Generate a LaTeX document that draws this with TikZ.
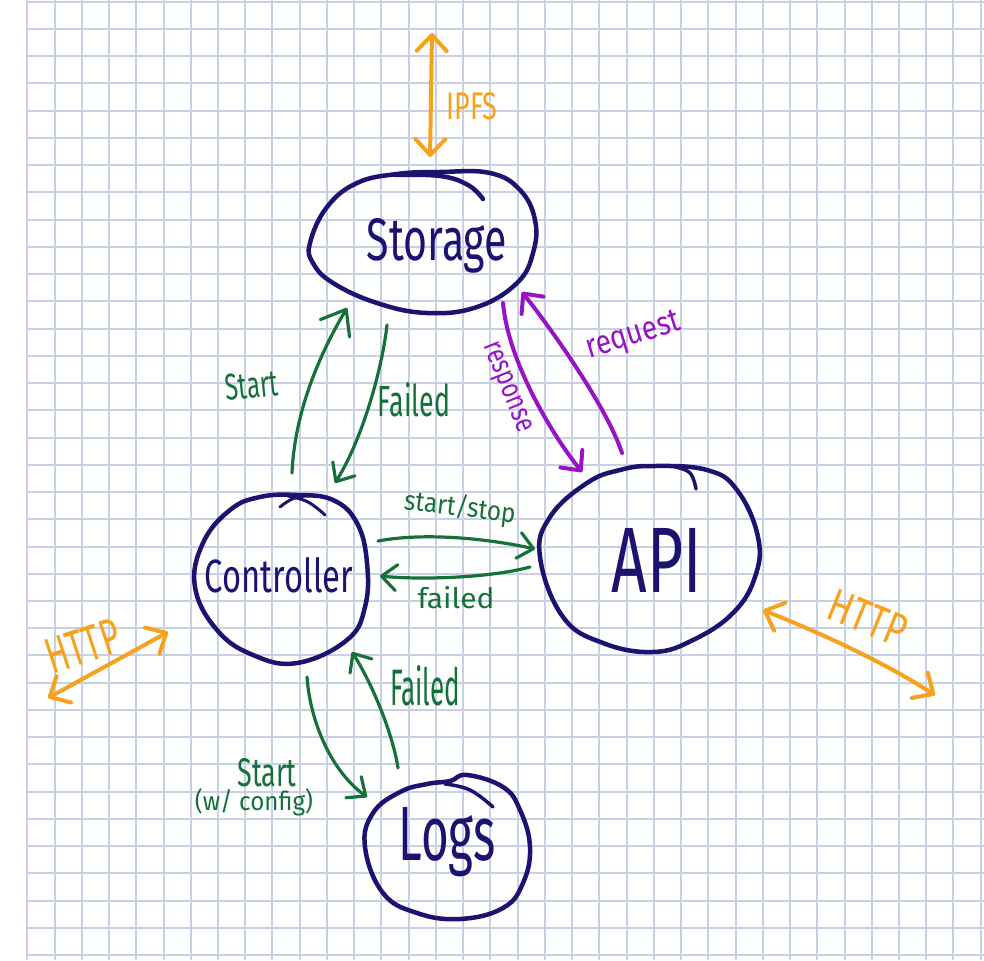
\documentclass[tikz,border=0pt]{standalone}
\usepackage{fontspec}
\setmainfont{Fira Sans}
\usetikzlibrary{arrows.meta,calc,shapes.geometric}
\definecolor{navy}{RGB}{30,18,112}
\definecolor{hwgreen}{RGB}{22,112,58}
\definecolor{hwpurple}{RGB}{150,20,198}
\definecolor{hworange}{RGB}{246,162,28}
\definecolor{gridc}{RGB}{200,208,228}
\newcommand{\hw}[3]{\resizebox{#1pt}{#2pt}{#3}}
\begin{document}
\begin{tikzpicture}[x=1pt,y=-1pt,
  outline/.style={draw=navy,line width=4.5pt,line cap=round,line join=round},
  holder/.style={shape=ellipse,draw=none,inner sep=0pt},
  lbl/.style={inner sep=0pt,anchor=base},
  navytxt/.style={lbl,text=navy},
  greentxt/.style={lbl,text=hwgreen},
  purpletxt/.style={lbl,text=hwpurple},
  orangetxt/.style={inner sep=0pt,text=hworange},
  garrow/.style={draw=hwgreen,line width=3.2pt,line cap=round,-{Straight Barb[length=15pt,width=26pt,round]}},
  parrow/.style={draw=hwpurple,line width=4pt,line cap=round,-{Straight Barb[length=15pt,width=28pt,round]}},
  oarrow/.style={draw=hworange,line width=4pt,line cap=round,{Straight Barb[length=16pt,width=30pt,round]}-{Straight Barb[length=16pt,width=30pt,round]}},
  gridline/.style={draw=gridc,line width=1.4pt}
]
\fill[white] (0,0) rectangle (984,960);
\useasboundingbox (0,0) rectangle (984,960);
% grid paper
\foreach \i in {0,...,35} {
  \pgfmathsetmacro{\gx}{round(27.3+27.24*\i)}
  \draw[gridline] (\gx,0) -- (\gx,960);
}
\foreach \j in {0,...,35} {
  \pgfmathsetmacro{\gy}{round(1.7+27.24*\j)}
  \draw[gridline] (27,\gy) -- (984,\gy);
}
% node holders
\node[holder,minimum width=225pt,minimum height=140pt] (storage) at (422,242) {};
\node[holder,minimum width=172pt,minimum height=168pt] (ctrl) at (281,579) {};
\node[holder,minimum width=218pt,minimum height=186pt] (api) at (649,559) {};
\node[holder,minimum width=165pt,minimum height=144pt] (logs) at (447,847) {};
% hand-drawn outlines
\draw[outline] plot[smooth cycle,tension=0.7] coordinates {(310,243) (327,207) (357,183) (397,174) (440,172) (490,173) (520,190) (535,220) (533,253) (517,283) (477,307) (427,313) (377,303) (333,283) (313,263)};
\draw[outline] plot[smooth,tension=0.7] coordinates {(395,175) (440,176) (468,185) (483,199)};
\draw[outline] plot[smooth cycle,tension=0.7] coordinates {(297,495) (333,500) (357,523) (367,563) (365,607) (347,640) (297,663) (253,655) (217,630) (195,587) (203,543) (230,510) (260,497)};
\draw[outline,line width=3pt] plot[smooth,tension=0.7] coordinates {(280,507) (292,499) (305,496)};
\draw[outline,line width=3pt] plot[smooth,tension=0.7] coordinates {(288,496) (308,502) (325,515)};
\draw[outline] plot[smooth cycle,tension=0.7] coordinates {(653,466) (707,470) (737,490) (758,537) (755,577) (733,613) (693,640) (653,652) (603,643) (563,617) (540,557) (550,517) (587,483) (620,470)};
\draw[outline,line width=3.5pt] plot[smooth,tension=0.7] coordinates {(675,467) (690,473) (696,489)};
\draw[outline] plot[smooth cycle,tension=0.7] coordinates {(427,784) (450,781) (467,775) (503,787) (520,810) (530,847) (523,883) (503,908) (460,919) (417,913) (383,893) (365,847) (373,813) (400,792)};
\draw[outline,line width=3.5pt] plot[smooth,tension=0.7] coordinates {(445,784) (470,790) (493,807)};
% node texts
\node[navytxt] (storagetxt) at (437,260) {\hw{140}{42}{Storage}};
\node[navytxt] (ctrltxt) at (279,592) {\hw{148}{35}{Controller}};
\node[navytxt] (apitxt) at (657,592) {\hw{90}{64}{API}};
\node[navytxt] (logstxt) at (447,860) {\hw{97}{53}{Logs}};
% free ends
\coordinate (ipfsend) at (432,33);
\coordinate (httpLend) at (48,698);
\coordinate (httpRend) at (935,695);
% green connectors
\draw[garrow,-{Straight Barb[length=22pt,width=34pt,round]}] ($(ctrl)+(11,-106)$) .. controls (295,405) and (325,345) .. ($(storage)+(-75,66)$);
\draw[garrow] ($(storage)+(-35,83)$) .. controls (382,370) and (362,440) .. ($(ctrl)+(54,-96)$);
\draw[garrow] ($(ctrl)+(97,-38)$) .. controls (420,533) and (480,537) .. ($(api)+(-114,-10)$);
\draw[garrow] ($(api)+(-119,8)$) .. controls (490,578) and (420,580) .. ($(ctrl)+(99,-3)$);
\draw[garrow] ($(ctrl)+(26,98)$) .. controls (310,720) and (330,770) .. ($(logs)+(-80,-50)$);
\draw[garrow] ($(logs)+(-49,-79)$) .. controls (392,730) and (370,680) .. ($(ctrl)+(71,73)$);
% purple connectors
\draw[parrow] ($(api)+(-27,-106)$) .. controls (608,410) and (556,335) .. ($(storage)+(100,50)$);
\draw[parrow] ($(storage)+(81,61)$) .. controls (508,360) and (550,432) .. ($(api)+(-67,-87)$);
% orange connectors
\draw[oarrow] (ipfsend) -- ($(storage)+(8,-85)$);
\draw[oarrow] (httpLend) -- ($(ctrl)+(-113,53)$);
\draw[oarrow] ($(api)+(114,51)$) .. controls (820,633) and (880,660) .. (httpRend);
% labels
\node[greentxt,rotate=6] (startlbl) at (253,398) {\hw{53}{26}{Start}};
\node[greentxt] (failedlbl) at (414,416) {\hw{72}{34}{Failed}};
\node[greentxt,rotate=-7] (sslbl) at (459,516) {\hw{112}{22}{start/stop}};
\node[greentxt] (failed2lbl) at (456,608) {\hw{77}{22}{failed}};
\node[greentxt] (failed3lbl) at (425,705) {\hw{70}{40}{Failed}};
\node[greentxt] (startcfglbl) at (267,786) {\hw{59}{28}{Start}};
\node[greentxt] (cfglbl) at (254,810) {\hw{118}{22}{(w/ config)}};
\node[purpletxt,rotate=17] (reqlbl) at (636,344) {\hw{97}{22}{request}};
\node[inner sep=0pt,text=hwpurple,rotate=-68] (resplbl) at (506,388) {\hw{95}{16}{response}};
\node[orangetxt,anchor=base] (ipfslbl) at (472,120) {\hw{51}{27}{IPFS}};
\node[orangetxt,rotate=18] (httpLlbl) at (83,646) {\hw{75}{35}{HTTP}};
\node[orangetxt,rotate=-22] (httpRlbl) at (868,618) {\hw{80}{32}{HTTP}};
\end{tikzpicture}
\end{document}
